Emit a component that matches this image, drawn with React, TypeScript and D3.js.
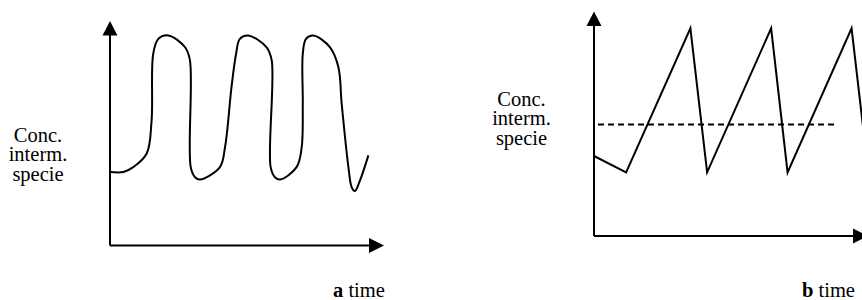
import React from 'react';
import * as d3 from 'd3';

// panel a: oscillating intermediate concentration (arbitrary units, 0-100)
const timeA = [0, 5, 8.6, 13.6, 15.4, 16, 17.9, 21.6, 27.8, 29.6, 29.9, 31.5, 33.3, 40.7, 42.6, 45, 46.7, 48.1, 51.2, 58, 59.9, 59.5, 61.1, 63, 69.1, 71, 71.4, 71.4, 72.6, 75.3, 81.5, 84.6, 85.8, 88.3, 89.5, 90.7, 92.6, 95.7];
const concA = [35, 35, 37.3, 43.8, 59.5, 91.3, 98.4, 100, 94.4, 88.3, 37.3, 32.5, 31.4, 37.3, 46.8, 75.4, 91.3, 98.4, 100, 94.4, 88.1, 37.3, 32.5, 31.4, 37.3, 46.8, 67.5, 91.3, 98.4, 100, 94.4, 84.9, 67.6, 37.3, 27.8, 25.9, 31, 42.9];

// panel b: sawtooth with a dashed threshold
const timeB = [0, 11.9, 35.7, 41.9, 65.6, 71.7, 95.4, 101.6];
const concB = [38.1, 30.3, 98.9, 30.3, 98.9, 30.3, 98.9, 30.3];
const thresholdB = 53.1;
const thresholdEndB = 89.6;

const yLabel = ['Conc.', 'interm.', 'specie'];

const fontStyle = { fontFamily: "'Liberation Serif', 'Times New Roman', Times, serif", fontSize: '20.5px' };

const Arrows: React.FC<{ x0: number; y0: number; yTip: number; xTip: number }> = ({ x0, y0, yTip, xTip }) => (
  <g>
    <line x1={x0} y1={y0} x2={x0} y2={yTip + 10} stroke="#000" strokeWidth={2} />
    <line x1={x0} y1={y0} x2={xTip - 10} y2={y0} stroke="#000" strokeWidth={2} />
    <polygon points={`${x0},${yTip} ${x0 - 7.5},${yTip + 14.5} ${x0 + 7.5},${yTip + 14.5}`} fill="#000" />
    <polygon points={`${xTip},${y0} ${xTip - 15},${y0 - 7.5} ${xTip - 15},${y0 + 7.5}`} fill="#000" />
  </g>
);

export default function App() {
  const xA = d3.scaleLinear().domain([0, 100]).range([110, 380]);
  const yA = d3.scaleLinear().domain([0, 100]).range([245.5, 35.5]);
  const xB = d3.scaleLinear().domain([0, 100]).range([594, 864]);
  const yB = d3.scaleLinear().domain([0, 100]).range([236, 26]);

  const lineA = d3.line<number>()
    .x((_, i) => xA(timeA[i]))
    .y(d => yA(d))
    .curve(d3.curveCatmullRom.alpha(0.5));

  const lineB = d3.line<number>()
    .x((_, i) => xB(timeB[i]))
    .y(d => yB(d));

  return (
    <svg width={862} height={300} style={{ position: 'absolute', left: 0, top: 0, background: '#fff' }}>
      {/* panel a */}
      <Arrows x0={xA(0)} y0={yA(0)} yTip={21} xTip={384} />
      <path d={lineA(concA) || ''} fill="none" stroke="#000" strokeWidth={2} />
      {yLabel.map((t, i) => (
        <text key={t} x={38} y={141.5 + i * 19.5} textAnchor="middle" style={fontStyle}>{t}</text>
      ))}
      <text x={333} y={296.5} style={fontStyle}>
        <tspan fontWeight="bold">a</tspan> time
      </text>

      {/* panel b */}
      <Arrows x0={xB(0)} y0={yB(0)} yTip={11.5} xTip={868} />
      <line x1={xB(0)} y1={yB(thresholdB)} x2={xB(thresholdEndB)} y2={yB(thresholdB)}
        stroke="#000" strokeWidth={2} strokeDasharray="6 4" strokeDashoffset={-4} />
      <path d={lineB(concB) || ''} fill="none" stroke="#000" strokeWidth={2} strokeLinejoin="miter" />
      {yLabel.map((t, i) => (
        <text key={t} x={521.5} y={105.5 + i * 19.5} textAnchor="middle" style={fontStyle}>{t}</text>
      ))}
      <text x={802} y={296.5} style={fontStyle}>
        <tspan fontWeight="bold">b</tspan> time
      </text>
    </svg>
  );
}
